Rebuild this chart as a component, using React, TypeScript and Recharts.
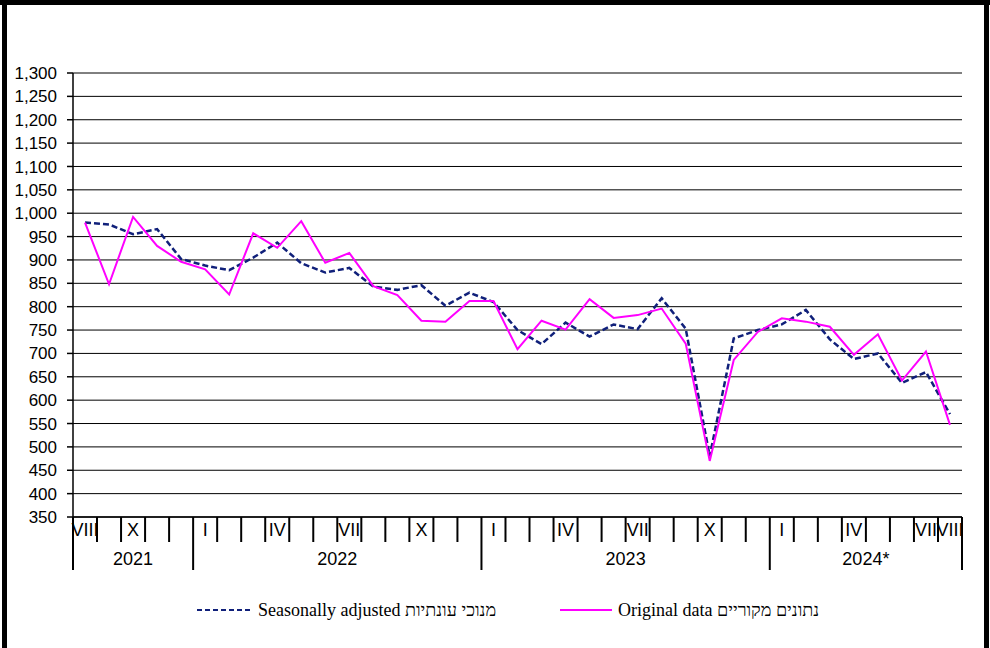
import React from 'react';
import { LineChart, Line, XAxis, YAxis, CartesianGrid, Legend } from 'recharts';

// Months from VIII 2021 to VIII 2024 (labels shown only on some months)
const monthLabels = [
  'VIII', '', 'X', '', '',
  'I', '', '', 'IV', '', '', 'VII', '', '', 'X', '', '',
  'I', '', '', 'IV', '', '', 'VII', '', '', 'X', '', '',
  'I', '', '', 'IV', '', '', 'VII', 'VIII',
];

const seasonallyAdjusted = [
  980, 976, 955, 966, 902,
  888, 878, 905, 937, 893, 873, 883, 843, 836, 846, 802, 830,
  810, 750, 720, 766, 736, 762, 752, 818, 753, 480, 732, 750,
  762, 793, 730, 688, 700, 637, 660, 570,
];

const originalData = [
  980, 848, 992, 930, 896,
  880, 826, 957, 926, 983, 894, 915, 844, 825, 770, 768, 812,
  812, 709, 770, 751, 816, 776, 782, 796, 721, 470, 686, 746,
  775, 768, 757, 697, 741, 642, 704, 547,
];

const yearLabels = ['2021', '2022', '2023', '2024*'];
const yearStarts = [0, 5, 17, 29];
const yearCounts = [5, 12, 12, 8];

const yTicks = [350, 400, 450, 500, 550, 600, 650, 700, 750, 800, 850, 900, 950, 1000, 1050, 1100, 1150, 1200, 1250, 1300];

const seriesNames = ['Seasonally adjusted מנוכי עונתיות', 'Original data נתונים מקוריים'];

const data = monthLabels.map((m, i) => ({
  idx: i,
  m,
  sa: seasonallyAdjusted[i],
  orig: originalData[i],
}));

const W = 990;
const H = 648;
const PLOT_W = 889;
const SANS = '"Liberation Sans", Arial, sans-serif';
const SERIF = '"Liberation Serif", "Times New Roman", serif';

const MonthTick = (props: any) => {
  const { x, y, index, payload } = props;
  const i = typeof index === 'number' ? index : payload.index;
  const n = monthLabels.length;
  const bw = PLOT_W / n;
  const left = x - bw / 2;
  const right = x + bw / 2;
  const isYearStart = yearStarts.includes(i);
  const yi = yearStarts.indexOf(i);
  return (
    <g>
      <line x1={left} y1={y} x2={left} y2={y + (isYearStart ? 53 : 25)} stroke="#000" strokeWidth={2} />
      {i === n - 1 && (
        <line x1={right} y1={y} x2={right} y2={y + 53} stroke="#000" strokeWidth={2} />
      )}
      {monthLabels[i] && (
        <text x={x} y={y + 19} textAnchor="middle" fontFamily={SANS} fontSize={18} fill="#000">
          {monthLabels[i]}
        </text>
      )}
      {yi >= 0 && (
        <text
          x={left + (yearCounts[yi] * bw) / 2}
          y={y + 48}
          textAnchor="middle"
          fontFamily={SANS}
          fontSize={18}
          fill="#000"
        >
          {yearLabels[yi]}
        </text>
      )}
    </g>
  );
};

const fmt = (v: number) => v.toLocaleString('en-US');

const LegendContent = (props: any) => {
  const payload = props.payload || [];
  const sa = payload.find((p: any) => p.dataKey === 'sa');
  const og = payload.find((p: any) => p.dataKey === 'orig');
  return (
    <svg width={W} height={30}>
      {sa && (
        <g>
          <line x1={197} y1={15} x2={250} y2={15} stroke={sa.color} strokeWidth={2} strokeDasharray="5 3" />
          <text x={258} y={21} fontFamily={SERIF} fontSize={18} fill="#000">{sa.value}</text>
        </g>
      )}
      {og && (
        <g>
          <line x1={560} y1={15} x2={612} y2={15} stroke={og.color} strokeWidth={2} />
          <text x={618} y={21} fontFamily={SERIF} fontSize={18} fill="#000">{og.value}</text>
        </g>
      )}
    </svg>
  );
};

export default function App() {
  return (
    <div style={{ position: 'absolute', left: 0, top: 0, width: W, height: H, background: '#fff', overflow: 'hidden' }}>
      <div style={{ position: 'absolute', left: 0, top: 0 }}>
        <LineChart width={W} height={H} data={data} margin={{ top: 73, right: 28, bottom: 71, left: 13 }}>
          <CartesianGrid horizontal vertical={false} stroke="#000" strokeWidth={1} />
          <XAxis
            dataKey="idx"
            type="category"
            scale="band"
            interval={0}
            height={60}
            tickLine={false}
            tickSize={0}
            tickMargin={0}
            axisLine={{ stroke: '#000', strokeWidth: 1.5 }}
            tick={<MonthTick />}
          />
          <YAxis
            width={60}
            domain={[350, 1300]}
            ticks={yTicks}
            interval={0}
            tickFormatter={fmt}
            tickSize={6}
            tickMargin={10}
            tickLine={{ stroke: '#000', strokeWidth: 1.5 }}
            axisLine={{ stroke: '#000', strokeWidth: 1.5 }}
            tick={{ fontFamily: SANS, fontSize: 17, fill: '#000' }}
          />
          <Legend
            layout="horizontal"
            verticalAlign="middle"
            align="center"
            content={<LegendContent />}
            wrapperStyle={{ position: 'absolute', top: 595, left: 0, width: W, height: 30 }}
          />
          <Line
            dataKey="sa"
            name={seriesNames[0]}
            stroke="#10207a"
            strokeWidth={2.5}
            strokeDasharray="6 3"
            dot={false}
            activeDot={false}
            isAnimationActive={false}
          />
          <Line
            dataKey="orig"
            name={seriesNames[1]}
            stroke="#ff00ff"
            strokeWidth={2}
            dot={false}
            activeDot={false}
            isAnimationActive={false}
          />
        </LineChart>
      </div>
      <div style={{ position: 'absolute', left: 0, top: 0, width: W, height: 5, background: '#000' }} />
      <div style={{ position: 'absolute', left: 2, top: 0, width: 5, height: H, background: '#000' }} />
      <div style={{ position: 'absolute', left: 984, top: 0, width: 5, height: H, background: '#000' }} />
    </div>
  );
}
